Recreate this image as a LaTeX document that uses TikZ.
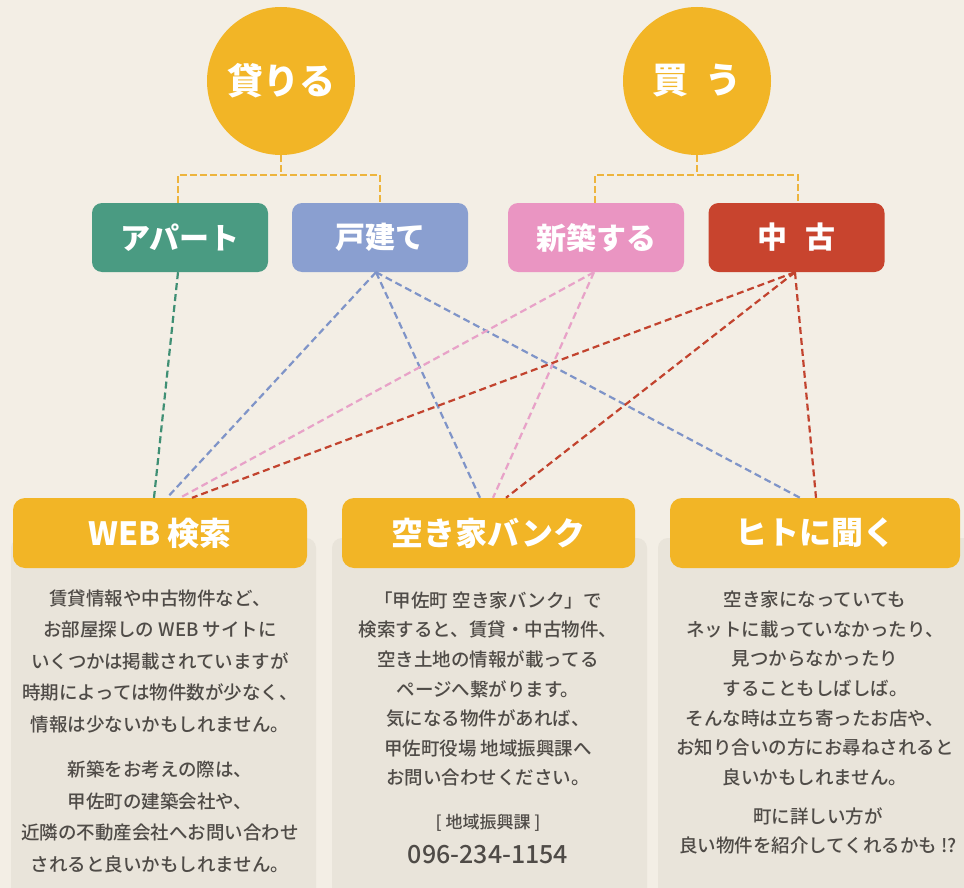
\documentclass[tikz,border=0pt]{standalone}
\usepackage{fontspec}
\setmainfont{Noto Sans CJK JP}[UprightFont={* Medium},BoldFont={* Black}]
\usetikzlibrary{calc}
\definecolor{bg}{HTML}{F3EEE5}
\definecolor{panel}{HTML}{E9E4DA}
\definecolor{gold}{HTML}{F2B526}
\definecolor{goldline}{HTML}{EDB43C}
\definecolor{cgreen}{HTML}{4A9B82}
\definecolor{cblue}{HTML}{8A9FD0}
\definecolor{cpink}{HTML}{EA95C2}
\definecolor{cred}{HTML}{C8442E}
\definecolor{lgreen}{HTML}{3F8F74}
\definecolor{lblue}{HTML}{7F94C8}
\definecolor{lpink}{HTML}{E8A2C8}
\definecolor{lred}{HTML}{C2432E}
\definecolor{txt}{HTML}{4F4B47}
\begin{document}
\begin{tikzpicture}[x=1pt,y=-1pt,
  circ/.style={circle,fill=gold,minimum size=148pt,inner sep=0pt,text=white,font=\fontsize{36}{40}\selectfont\bfseries},
  topbox/.style={rounded corners=10pt,minimum width=176pt,minimum height=69pt,inner sep=0pt,text=white,font=\fontsize{30}{34}\selectfont\bfseries},
  headbox/.style={rounded corners=12pt,fill=gold,minimum height=70pt,inner sep=0pt,text=white,font=\fontsize{32}{36}\selectfont\bfseries},
  bracket/.style={draw=goldline,line width=2.2pt,dash pattern=on 6.5pt off 3.5pt},
  link/.style={line width=2.2pt,dash pattern=on 7pt off 4pt},
  body/.style={align=center,text=txt,inner sep=0pt,font=\fontsize{18.5}{31.5}\selectfont},
  bodyb/.style={align=center,text=txt,inner sep=0pt,font=\fontsize{18.5}{29.6}\selectfont}
]
\useasboundingbox (0,0) rectangle (964,888);
\fill[bg] (0,0) rectangle (964,888);

% panels
\fill[panel,rounded corners=10pt] (11,538) rectangle (316,900);
\fill[panel,rounded corners=10pt] (332,538) rectangle (647,900);
\fill[panel,rounded corners=10pt] (658,538) rectangle (978,900);

% circles
\node[circ] (kariru) at (281,81) {貸りる};
\node[circ] (kau) at (697,81) {買\hspace{0.45em}う};

% top boxes
\node[topbox,fill=cgreen] (apart) at (180,237.5) {アパート};
\node[topbox,fill=cblue] (kodate) at (380,237.5) {戸建て};
\node[topbox,fill=cpink] (shin) at (596,237.5) {新築する};
\node[topbox,fill=cred] (chuko) at (796.5,237.5) {中\hspace{0.6em}古};

% brackets
\coordinate (kj) at (281,175);
\coordinate (bj) at (697,175);
\draw[bracket] (kariru.south) -- (kj);
\draw[bracket] ([xshift=-2pt]apart.north) |- (kj) -| (kodate.north);
\draw[bracket] (kau.south) -- (bj);
\draw[bracket] ([xshift=-1pt]shin.north) |- (bj) -| ([xshift=1.5pt]chuko.north);

% headers
\node[headbox,minimum width=294pt] (web) at (160,533) {WEB 検索};
\node[headbox,minimum width=293pt] (akiya) at (488.5,533) {空き家バンク};
\node[headbox,minimum width=290pt] (hito) at (815,533) {ヒトに聞く};

% connectors
\draw[link,draw=lgreen] ([xshift=-2pt]apart.south) -- ([xshift=-6pt]web.north);
\draw[link,draw=lblue] ([xshift=-4pt]kodate.south) -- ([xshift=7pt]web.north);
\draw[link,draw=lblue] ([xshift=-4pt]kodate.south) -- ([xshift=-8.5pt]akiya.north);
\draw[link,draw=lblue] ([xshift=-4pt]kodate.south) -- ([xshift=-15pt]hito.north);
\draw[link,draw=lpink] ([xshift=-2pt]shin.south) -- ([xshift=20pt]web.north);
\draw[link,draw=lpink] ([xshift=-2pt]shin.south) -- ([xshift=4.5pt]akiya.north);
\draw[link,draw=lred] ([xshift=-1.5pt]chuko.south) -- ([xshift=32pt]web.north);
\draw[link,draw=lred] ([xshift=-1.5pt]chuko.south) -- ([xshift=17.5pt]akiya.north);
\draw[link,draw=lred] ([xshift=-1.5pt]chuko.south) -- ([xshift=1pt]hito.north);

% body texts
\node[body] (w1) at (160,661) {賃貸情報や中古物件など、\\お部屋探しの WEB サイトに\\いくつかは掲載されていますが\\時期によっては物件数が少なく、\\情報は少ないかもしれません。};
\node[body] (w2) at (160,817) {新築をお考えの際は、\\甲佐町の建築会社や、\\近隣の不動産会社へお問い合わせ\\されると良いかもしれません。};

\node[bodyb] (a1) at (488,689) {「甲佐町 空き家バンク」で\\検索すると、賃貸・中古物件、\\空き土地の情報が載ってる\\ページへ繋がります。\\気になる物件があれば、\\甲佐町役場 地域振興課へ\\お問い合わせください。};
\node[text=txt,inner sep=0pt,font=\fontsize{17}{20}\selectfont] (a2) at (488,823) {[ 地域振興課 ]};
\node[text=txt,inner sep=0pt,font=\fontsize{25}{28}\selectfont] (a3) at (488,855) {096-234-1154};

\node[bodyb] (h1) at (815,688.5) {空き家になっていても\\ネットに載っていなかったり、\\見つからなかったり\\することもしばしば。\\そんな時は立ち寄ったお店や、\\お知り合いの方にお尋ねされると\\良いかもしれません。};
\node[bodyb] (h2) at (818,831) {町に詳しい方が\\良い物件を紹介してくれるかも !?};
\end{tikzpicture}
\end{document}
